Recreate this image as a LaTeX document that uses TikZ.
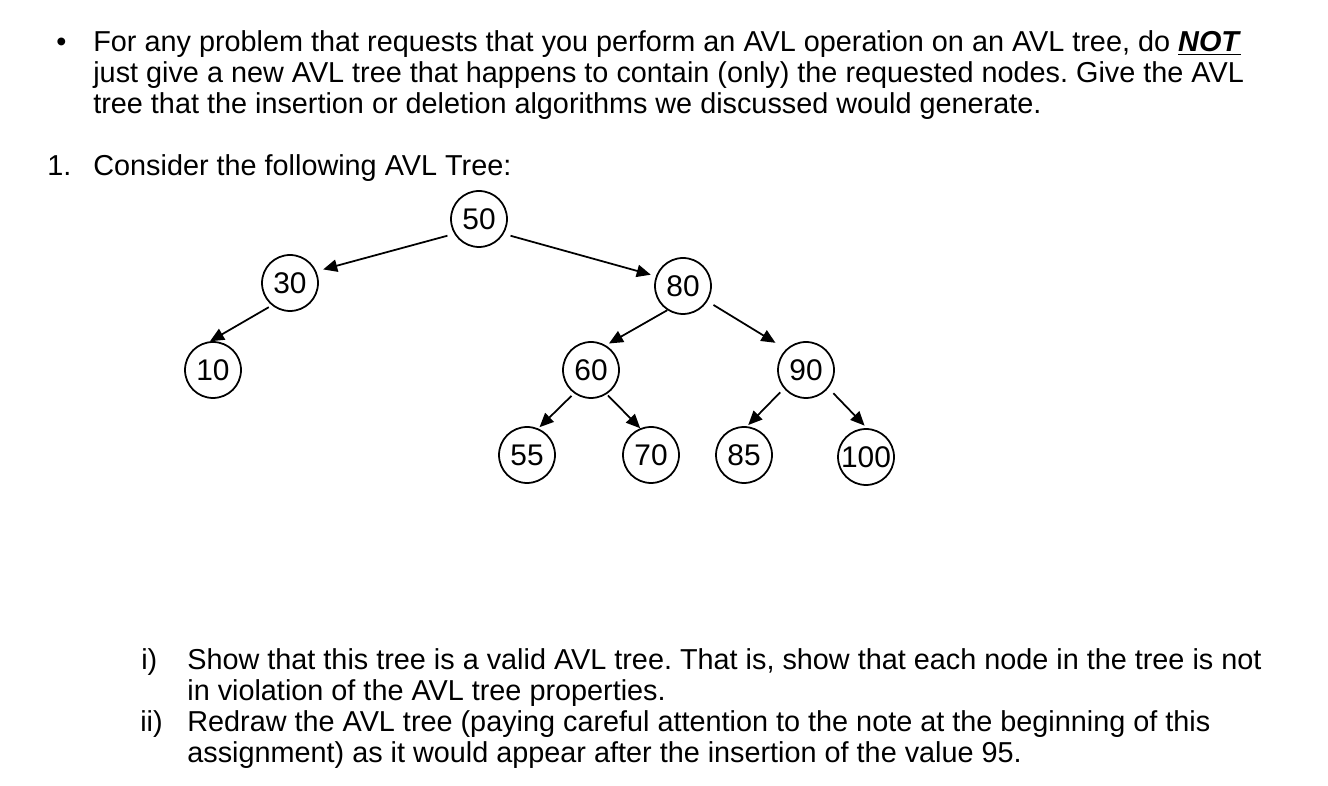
\documentclass[tikz,border=0pt]{standalone}
\usepackage{fontspec}
\setmainfont{Liberation Sans}
\usepackage{tikz}
\usetikzlibrary{arrows.meta, positioning}
\definecolor{mydark}{RGB}{0,0,0}
\frenchspacing
\tikzset{
  txt/.style={anchor=base west, inner sep=0pt, font=\fontsize{16.4}{19}\selectfont, color=mydark},
  avlnode/.style={circle, draw=mydark, fill=white, minimum size=1.12cm,
    inner sep=0pt, font=\fontsize{17}{19}\selectfont, line width=1pt},
  arrow/.style={-{Triangle[length=8pt,width=7pt]}, line width=1pt, color=mydark}
}

\begin{document}
\begin{tikzpicture}[x=0.02cm, y=-0.02cm]
  % ── Page frame ──────────────────────────────────────────────────────────────
  \fill[white] (0,0) rectangle (1328,786);
  \useasboundingbox (0,0) rectangle (1328,786);

  % ── Note ────────────────────────────────────────────────────────────────────
  \node[txt] (bul) at (56,52) {\textbullet};
  \node[txt] (note1) at (93,52) {For any problem that requests that you perform an AVL operation on an AVL tree, do \underline{\textbf{\textit{NOT}}}};
  \node[txt] (note2) at (93,83) {just give a new AVL tree that happens to contain (only) the requested nodes. Give the AVL};
  \node[txt] (note3) at (93,114) {tree that the insertion or deletion algorithms we discussed would generate.};

  % ── Question ────────────────────────────────────────────────────────────────
  \node[txt] (qnum) at (47,176) {1.};
  \node[txt] (qtxt) at (93,176) {Consider the following AVL Tree:};

  % ── Tree nodes ──────────────────────────────────────────────────────────────
  \node[avlnode] (n50) at (479,219) {50};
  \node[avlnode] (n30) at (290,283) {30};
  \node[avlnode] (n80) at (683,286) {80};
  \node[avlnode] (n10) at (213,370) {10};
  \node[avlnode] (n60) at (591,370) {60};
  \node[avlnode] (n90) at (806,370) {90};
  \node[avlnode] (n55) at (527,455) {55};
  \node[avlnode] (n70) at (651,455) {70};
  \node[avlnode] (n85) at (744,455) {85};
  \node[avlnode] (n100) at (866,457) {100};

  % ── Edges ───────────────────────────────────────────────────────────────────
  \draw[arrow, shorten <=4pt, shorten >=4pt] (n50.211) -- (n30.24);
  \draw[arrow, shorten <=4pt, shorten >=3pt] (n50.329) -- (n80.160);
  \draw[arrow, shorten <=2pt] (n30.231) -- (n10.96);
  \draw[arrow, shorten >=2pt] (n80.237) -- (n60.59);
  \draw[arrow, shorten <=4pt, shorten >=7pt] (n80.328) -- (n90.134);
  \draw[arrow, shorten <=2pt, shorten >=1pt] (n60.234) -- (n55.67);
  \draw[arrow, shorten <=1pt] (n60.303) -- (n70.112);
  \draw[arrow, shorten <=3pt, shorten >=1pt] (n90.220) -- (n85.84);
  \draw[arrow, shorten <=4pt, shorten >=2pt] (n90.321) -- (n100.88);

  % ── Parts ───────────────────────────────────────────────────────────────────
  \node[txt] (pi) at (141,669) {i)};
  \node[txt] (pi1) at (187,669) {Show that this tree is a valid AVL tree. That is, show that each node in the tree is not};
  \node[txt] (pi2) at (187,700) {in violation of the AVL tree properties.};
  \node[txt] (pii) at (140,731) {ii)};
  \node[txt] (pii1) at (187,731) {Redraw the AVL tree (paying careful attention to the note at the beginning of this};
  \node[txt] (pii2) at (187,762) {assignment) as it would appear after the insertion of the value 95.};
\end{tikzpicture}
\end{document}
